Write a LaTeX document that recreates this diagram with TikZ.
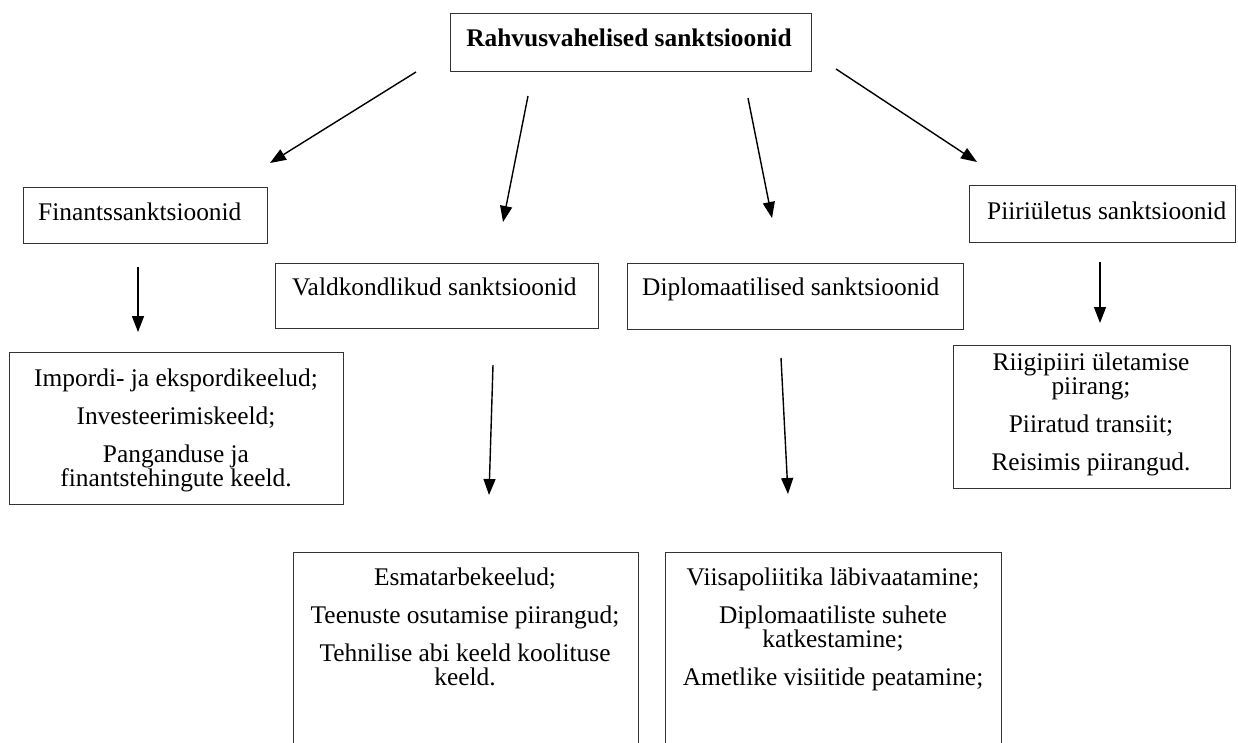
\documentclass[tikz,border=0pt]{standalone}
\usepackage{fontspec}
\setmainfont{Liberation Serif}
\usetikzlibrary{arrows.meta}
\begin{document}
\begin{tikzpicture}[x=1pt,y=-1pt,
  box/.style={draw=black!80, line width=1.3pt, rectangle, inner sep=0pt, anchor=north west},
  lbl/.style={inner sep=0pt, font=\fontsize{25.4}{24}\selectfont},
  mlbl/.style={lbl, align=center, anchor=base},
  arr/.style={line width=1.4pt, -{Triangle[length=16pt,width=12pt]}}]
\useasboundingbox (0,0) rectangle (1238,742);
\clip (0,0) rectangle (1238,742);
% boxes
\node[box, minimum width=361pt, minimum height=58pt] (topbox) at (450,13) {};
\node[box, minimum width=244pt, minimum height=56pt] (finbox) at (23,187) {};
\node[box, minimum width=323pt, minimum height=65pt] (valbox) at (275,263) {};
\node[box, minimum width=336pt, minimum height=66pt] (dipbox) at (627,263) {};
\node[box, minimum width=266pt, minimum height=57pt] (piibox) at (969,185) {};
\node[box, minimum width=334pt, minimum height=152pt] (impbox) at (9,352) {};
\node[box, minimum width=277pt, minimum height=143pt] (riibox) at (953,345) {};
\node[box, minimum width=345pt, minimum height=230pt] (esmbox) at (293,552) {};
\node[box, minimum width=336pt, minimum height=230pt] (viibox) at (665,552) {};
% texts
\node[lbl, anchor=base, font=\fontsize{25.4}{24}\selectfont\bfseries] (toptxt) at (629,46) {Rahvusvahelised sanktsioonid};
\node[lbl, anchor=base west] (fintxt) at (38,220) {Finantssanktsioonid};
\node[lbl, anchor=base west] (valtxt) at (292,295) {Valdkondlikud sanktsioonid};
\node[lbl, anchor=base west] (diptxt) at (642,295) {Diplomaatilised sanktsioonid};
\node[lbl, anchor=base west] (piitxt) at (987,219) {Piiriületus sanktsioonid};
\node[mlbl] (imptxt) at (176,486) {Impordi- ja ekspordikeelud;\\[14pt] Investeerimiskeeld;\\[14pt] Panganduse ja\\ finantstehingute keeld.};
\node[mlbl] (riitxt) at (1091,470) {Riigipiiri ületamise\\ piirang;\\[14pt] Piiratud transiit;\\[14pt] Reisimis piirangud.};
\node[mlbl] (esmtxt) at (465,685) {Esmatarbekeelud;\\[14pt] Teenuste osutamise piirangud;\\[14pt] Tehnilise abi keeld koolituse\\ keeld.};
\node[mlbl] (viitxt) at (833,685) {Viisapoliitika läbivaatamine;\\[14pt] Diplomaatiliste suhete\\ katkestamine;\\[14pt] Ametlike visiitide peatamine;};
% arrow end points
\coordinate (a1s) at (416,72);  \coordinate (a1e) at (270,163);
\coordinate (a2s) at (528,96);  \coordinate (a2e) at (503,222);
\coordinate (a3s) at (748,98);  \coordinate (a3e) at (772,218);
\coordinate (a4s) at (836,69);  \coordinate (a4e) at (977,162);
\coordinate (a5s) at (138,267); \coordinate (a5e) at (138,332);
\coordinate (a6s) at (493,365); \coordinate (a6e) at (489,495);
\coordinate (a7s) at (781,358); \coordinate (a7e) at (788,494);
\coordinate (a8s) at (1100,262); \coordinate (a8e) at (1100,323);
\draw[arr] (a1s) -- (a1e);
\draw[arr] (a2s) -- (a2e);
\draw[arr] (a3s) -- (a3e);
\draw[arr] (a4s) -- (a4e);
\draw[arr] (a5s) -- (a5e);
\draw[arr] (a6s) -- (a6e);
\draw[arr] (a7s) -- (a7e);
\draw[arr] (a8s) -- (a8e);
\end{tikzpicture}
\end{document}
